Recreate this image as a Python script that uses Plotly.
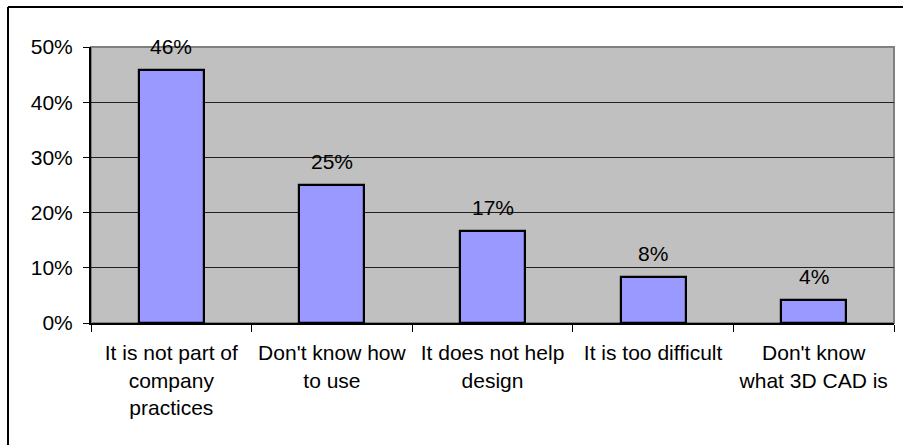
import plotly.graph_objects as go

categories = ["It is not part of<br>company<br>practices", "Don't know how<br>to use",
              "It does not help<br>design", "It is too difficult", "Don't know<br>what 3D CAD is"]
values = [0.458, 0.25, 0.167, 0.083, 0.042]
labels = ["46%", "25%", "17%", "8%", "4%"]
ytick_vals = [0, 0.1, 0.2, 0.3, 0.4, 0.5]
ytick_text = ["0%", "10%", "20%", "30%", "40%", "50%"]

W, H = 903, 445
L, R, T, B = 91, 9, 47, 122
FONT = dict(family="Liberation Sans, Arial, sans-serif", size=21, color="black")

fig = go.Figure()
fig.add_trace(go.Bar(x=list(range(len(categories))), y=values, width=0.405,
                     marker=dict(color="#9999FF", line=dict(color="black", width=2.2)),
                     hoverinfo="skip"))

for i, (v, t) in enumerate(zip(values, labels)):
    fig.add_annotation(x=i, y=v, text=t, showarrow=False, yanchor="bottom",
                       yshift=10, font=FONT)

pw = W - L - R
ph = H - T - B
# outer frame (left and top edges)
fx = (8 - L) / pw
fy = (H - B - 7) / ph
fig.add_shape(type="line", xref="paper", yref="paper", x0=fx, x1=fx, y0=fy, y1=-1,
              line=dict(color="black", width=2))
fig.add_shape(type="line", xref="paper", yref="paper", x0=fx, x1=1.1, y0=fy, y1=fy,
              line=dict(color="black", width=2))
# plot area border
fig.add_shape(type="rect", xref="paper", yref="paper", x0=0, x1=1, y0=0, y1=1,
              line=dict(color="#808080", width=2), layer="below")

fig.update_layout(
    width=W, height=H, margin=dict(l=L, r=R, t=T, b=B, autoexpand=False),
    paper_bgcolor="white", plot_bgcolor="#C0C0C0", showlegend=False,
    font=FONT, bargap=0,
)
fig.update_xaxes(type="linear", range=[-0.5, 4.5], tickvals=list(range(len(categories))),
                 ticktext=categories, showgrid=False, zeroline=False,
                 showline=True, linecolor="black", linewidth=2,
                 ticks="", tickfont=FONT, ticklabelstandoff=10, fixedrange=True)
# boundary ticks via minor ticks
fig.update_xaxes(minor=dict(tickvals=[-0.5, 0.5, 1.5, 2.5, 3.5, 4.5], ticks="outside",
                            ticklen=7, tickcolor="black", tickwidth=1, showgrid=False))
fig.update_yaxes(range=[0, 0.5], tickvals=ytick_vals, ticktext=ytick_text,
                 showgrid=True, gridcolor="#202020", gridwidth=1, zeroline=False,
                 showline=True, linecolor="black", linewidth=2,
                 ticks="outside", ticklen=6, tickcolor="black", tickwidth=1,
                 tickfont=FONT, ticklabelstandoff=6, fixedrange=True)

fig.write_html("out.html")
